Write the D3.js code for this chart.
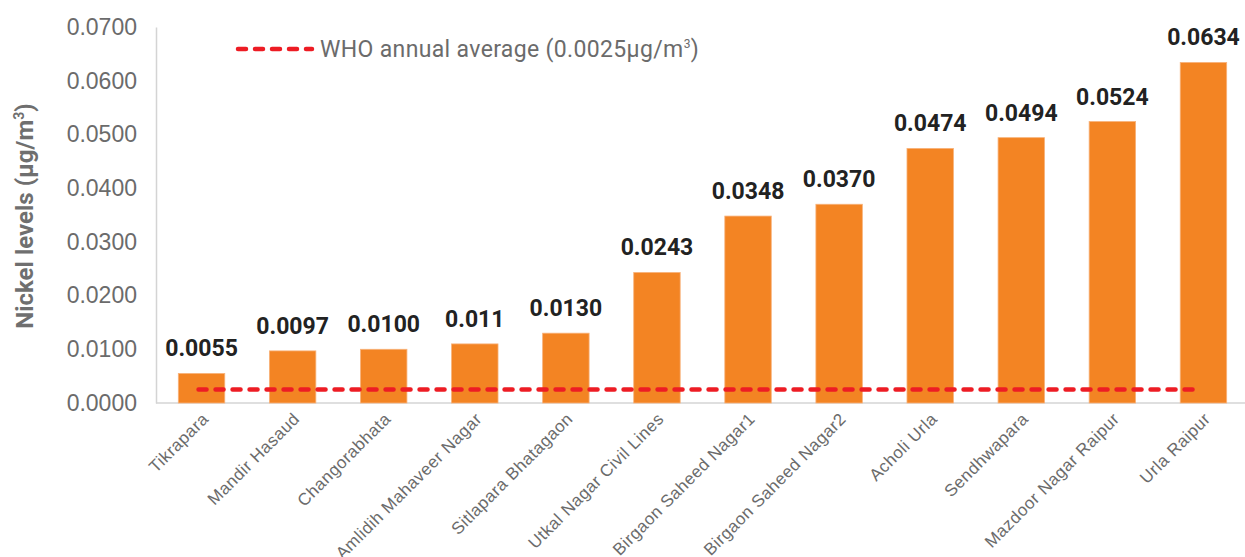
<!DOCTYPE html>
<html>
<head>
<meta charset="utf-8">
<script src="https://d3js.org/d3.v7.min.js"></script>
<style>
  html, body { margin: 0; padding: 0; background: #fff; }
  svg { display: block; font-family: Roboto, "Noto Sans", sans-serif; }
</style>
</head>
<body>
<div id="chart"></div>
<script>
// Data
const sites = ["Tikrapara", "Mandir Hasaud", "Changorabhata", "Amlidih Mahaveer Nagar",
  "Sitlapara Bhatagaon", "Utkal Nagar Civil Lines", "Birgaon Saheed Nagar1",
  "Birgaon Saheed Nagar2", "Acholi Urla", "Sendhwapara", "Mazdoor Nagar Raipur", "Urla Raipur"];
const nickel = [0.0055, 0.0097, 0.0100, 0.011, 0.0130, 0.0243, 0.0348, 0.0370, 0.0474, 0.0494, 0.0524, 0.0634];
const nickelLabels = ["0.0055", "0.0097", "0.0100", "0.011", "0.0130", "0.0243", "0.0348",
  "0.0370", "0.0474", "0.0494", "0.0524", "0.0634"];
const whoLimit = 0.0025;
const yTicks = [0, 0.01, 0.02, 0.03, 0.04, 0.05, 0.06, 0.07];

const width = 1245, height = 557;
const margin = {top: 27, right: -4, bottom: 154, left: 156};

const svg = d3.select("#chart").append("svg")
  .attr("width", width)
  .attr("height", height);

const x = d3.scaleBand()
  .domain(sites)
  .range([margin.left, width - margin.right])
  .paddingInner(0.49)
  .paddingOuter(0.245);

const y = d3.scaleLinear()
  .domain([0, 0.07])
  .range([height - margin.bottom, margin.top]);

// axes
const yAxis = svg.append("g")
  .attr("transform", `translate(${margin.left},0)`)
  .call(d3.axisLeft(y).tickValues(yTicks).tickFormat(d3.format(".4f")).tickSize(0).tickPadding(19));
yAxis.select(".domain").attr("stroke", "#d4d4d4").attr("stroke-width", 1.5);
yAxis.selectAll("text").attr("fill", "#6b6b6b").style("font-size", "23px");

const xAxis = svg.append("g")
  .attr("transform", `translate(0,${y(0)})`)
  .call(d3.axisBottom(x).tickSize(0).tickPadding(0));
xAxis.select(".domain").attr("stroke", "#d4d4d4").attr("stroke-width", 1.5)
  .attr("d", `M${margin.left},0H${width}`);
xAxis.selectAll("text")
  .attr("fill", "#6b6b6b")
  .style("font-size", "17px")
  .style("letter-spacing", "0.5px")
  .attr("text-anchor", "end")
  .attr("dy", null)
  .attr("transform", "translate(8,17) rotate(-45)");

// bars
svg.append("g").selectAll("rect")
  .data(nickel)
  .join("rect")
  .attr("x", (d, i) => x(sites[i]))
  .attr("y", d => y(d))
  .attr("width", x.bandwidth())
  .attr("height", d => y(0) - y(d))
  .attr("fill", "#f38423")
  .attr("stroke", "#f8b27a")
  .attr("stroke-width", 0.8);

// value labels
svg.append("g").selectAll("text")
  .data(nickel)
  .join("text")
  .attr("x", (d, i) => x(sites[i]) + x.bandwidth() / 2)
  .attr("y", d => y(d) - 17)
  .attr("text-anchor", "middle")
  .attr("fill", "#222")
  .style("font-size", "23px")
  .style("font-weight", "bold")
  .text((d, i) => nickelLabels[i]);

// WHO line
const half = x.bandwidth() / 2;
svg.append("line")
  .attr("x1", x(sites[0]) + half - 3)
  .attr("x2", x(sites[sites.length - 1]) + half - 6)
  .attr("y1", y(whoLimit))
  .attr("y2", y(whoLimit))
  .attr("stroke", "#ed1c24")
  .attr("stroke-width", 4.5)
  .attr("stroke-linecap", "round")
  .attr("stroke-dasharray", "8,9");

// legend
const legend = svg.append("g").attr("transform", "translate(238,49)");
legend.append("line")
  .attr("x1", 0).attr("x2", 74)
  .attr("stroke", "#ed1c24")
  .attr("stroke-width", 4.5)
  .attr("stroke-linecap", "round")
  .attr("stroke-dasharray", "8,9");
const lt = legend.append("text")
  .attr("x", 82).attr("y", 8)
  .attr("fill", "#6b6b6b")
  .style("font-size", "23px")
  .style("letter-spacing", "0.35px");
lt.append("tspan").text("WHO annual average (0.0025µg/m");
lt.append("tspan").attr("dy", -9).style("font-size", "12px").text("3");
lt.append("tspan").attr("dy", 9).text(")");

// y title
const yt = svg.append("text")
  .attr("transform", "translate(33,216) rotate(-90)")
  .attr("text-anchor", "middle")
  .attr("fill", "#6f6f6f")
  .style("font-size", "24px")
  .style("font-weight", "bold");
yt.append("tspan").text("Nickel levels (µg/m");
yt.append("tspan").attr("dy", -9).style("font-size", "14px").text("3");
yt.append("tspan").attr("dy", 9).text(")");
</script>
</body>
</html>
